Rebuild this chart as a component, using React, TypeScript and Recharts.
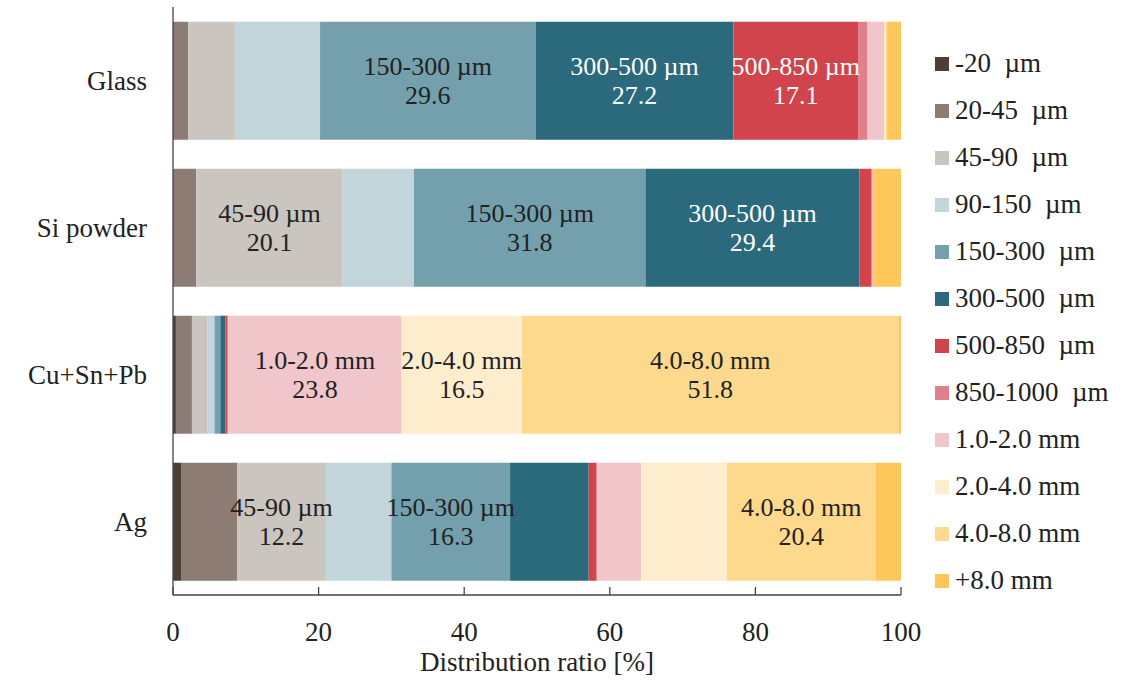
import React from "react";
import {
  BarChart,
  Bar,
  XAxis,
  YAxis,
  Legend,
  LabelList,
} from "recharts";

const FONT = '"Liberation Serif", "Times New Roman", serif';
const INK = "#222";

const categories = ["Glass", "Si powder", "Cu+Sn+Pb", "Ag"];

const sizeClasses = [
  "-20 µm",
  "20-45 µm",
  "45-90 µm",
  "90-150 µm",
  "150-300 µm",
  "300-500 µm",
  "500-850 µm",
  "850-1000 µm",
  "1.0-2.0 mm",
  "2.0-4.0 mm",
  "4.0-8.0 mm",
  "+8.0 mm",
];

// legend text uses a wider gap before the µm unit
const legendNames = [
  "-20  µm",
  "20-45  µm",
  "45-90  µm",
  "90-150  µm",
  "150-300  µm",
  "300-500  µm",
  "500-850  µm",
  "850-1000  µm",
  "1.0-2.0 mm",
  "2.0-4.0 mm",
  "4.0-8.0 mm",
  "+8.0 mm",
];

const colors = [
  "#4b3f38",
  "#8d7c73",
  "#cbc5c0",
  "#c2d5db",
  "#74a0ad",
  "#2b6a7c",
  "#d2444c",
  "#e0808a",
  "#f1c6ca",
  "#feedcc",
  "#fdd98e",
  "#fec75a",
];

// distribution ratio [%] per size class, in sizeClasses order
const glass = [0.1, 2.0, 6.4, 11.7, 29.6, 27.2, 17.1, 1.3, 2.3, 0.2, 0.2, 1.9];
const siPowder = [0.0, 3.2, 20.1, 9.8, 31.8, 29.4, 1.6, 0.2, 0.2, 0.0, 0.0, 3.7];
const cuSnPb = [0.4, 2.2, 2.1, 1.0, 0.8, 0.7, 0.3, 0.1, 23.8, 16.5, 51.8, 0.3];
const ag = [1.1, 7.7, 12.2, 9.0, 16.3, 10.8, 1.1, 0.0, 6.1, 11.8, 20.4, 3.5];

const xTicks = [0, 20, 40, 60, 80, 100];

// which segments carry an in-bar label
const labelled: Record<string, string[]> = {
  Glass: ["150-300 µm", "300-500 µm", "500-850 µm"],
  "Si powder": ["45-90 µm", "150-300 µm", "300-500 µm"],
  "Cu+Sn+Pb": ["1.0-2.0 mm", "2.0-4.0 mm", "4.0-8.0 mm"],
  Ag: ["45-90 µm", "150-300 µm", "4.0-8.0 mm"],
};

const darkSegments = ["300-500 µm", "500-850 µm"];

const series = [glass, siPowder, cuSnPb, ag];

const chartData = categories.map((name, i) => {
  const row: Record<string, string | number> = { name };
  sizeClasses.forEach((s, j) => {
    row[s] = series[i][j];
  });
  return row;
});

function segmentLabel(sizeClass: string) {
  return (props: any) => {
    const { x, y, width, height, value } = props;
    const [cat, v] = String(value).split("|");
    if (!labelled[cat]?.includes(sizeClass)) return null;
    const cx = Number(x) + Number(width) / 2;
    const cy = Number(y) + Number(height) / 2;
    const fill = darkSegments.includes(sizeClass) ? "#fff" : INK;
    return (
      <text
        x={cx}
        y={cy}
        textAnchor="middle"
        fontFamily={FONT}
        fontSize={26}
        fill={fill}
      >
        <tspan x={cx} dy={-6}>
          {sizeClass}
        </tspan>
        <tspan x={cx} dy={29}>
          {Number(v).toFixed(1)}
        </tspan>
      </text>
    );
  };
}

function SizeLegend() {
  return (
    <div style={{ fontFamily: FONT, fontSize: 27, color: INK }}>
      {legendNames.map((n, i) => (
        <div
          key={n}
          style={{ height: 47, display: "flex", alignItems: "center", whiteSpace: "pre" }}
        >
          <span
            style={{
              display: "inline-block",
              width: 14,
              height: 14,
              background: colors[i],
              marginRight: 6,
            }}
          />
          {n}
        </div>
      ))}
    </div>
  );
}

export default function App() {
  return (
    <div style={{ position: "absolute", left: 0, top: 0, background: "#fff" }}>
      <BarChart
        width={1126}
        height={688}
        data={chartData}
        layout="vertical"
        margin={{ top: 7, right: 225, bottom: 0, left: 0 }}
        barCategoryGap="10%"
      >
        <XAxis
          type="number"
          domain={[0, 100]}
          ticks={xTicks}
          height={93}
          tickSize={-8}
          tickMargin={35}
          axisLine={{ stroke: "#444", strokeWidth: 1.3 }}
          tickLine={{ stroke: "#444", strokeWidth: 1.3 }}
          tick={{ fontSize: 27, fill: INK, fontFamily: FONT }}
          label={{
            value: "Distribution ratio [%]",
            position: "insideBottom",
            offset: 17,
            style: { fontSize: 27, fill: INK, fontFamily: FONT },
          }}
        />
        <YAxis
          type="category"
          dataKey="name"
          width={173}
          tickSize={0}
          tickMargin={26}
          tickLine={false}
          axisLine={{ stroke: "#444", strokeWidth: 1.3 }}
          tick={{ fontSize: 27, fill: INK, fontFamily: FONT }}
        />
        <YAxis
          yAxisId="frame"
          orientation="right"
          type="category"
          dataKey="name"
          width={0}
          tick={false}
          tickLine={false}
          axisLine={{ stroke: "#444", strokeWidth: 1.3 }}
        />
        <Legend
          layout="vertical"
          align="center"
          verticalAlign="middle"
          wrapperStyle={{ left: 935, top: 40, width: 191 }}
          content={() => <SizeLegend />}
        />
        {sizeClasses.map((s, i) => (
          <Bar
            key={s}
            dataKey={s}
            stackId="dist"
            fill={colors[i]}
            isAnimationActive={false}
          >
            <LabelList
              dataKey={(row: any) => `${row.name}|${row[s]}`}
              content={segmentLabel(s)}
            />
          </Bar>
        ))}
      </BarChart>
    </div>
  );
}
